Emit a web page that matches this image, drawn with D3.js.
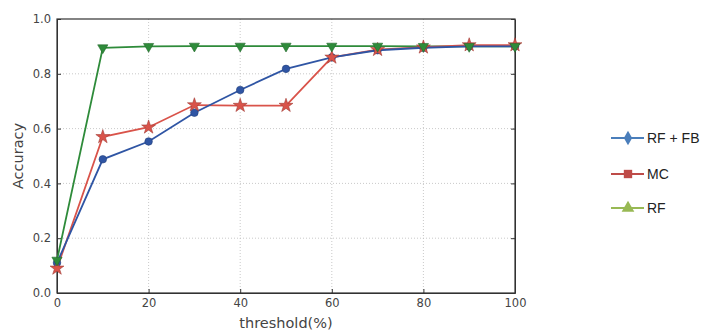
<!DOCTYPE html>
<html><head><meta charset="utf-8">
<script src="https://cdn.jsdelivr.net/npm/d3@7"></script>
<style>body{margin:0;background:#fff}svg{display:block}</style>
</head><body><svg id="c" width="708" height="332"></svg>
<script>
const thresholds = [0,10,20,30,40,50,60,70,80,90,100];
const rfFb = [0.11,0.488,0.553,0.658,0.741,0.818,0.86,0.886,0.895,0.9,0.9];
const mc   = [0.09,0.57,0.605,0.686,0.684,0.684,0.86,0.888,0.897,0.905,0.905];
const rf   = [0.12,0.895,0.9,0.901,0.901,0.901,0.901,0.901,0.9,0.9,0.9];
const xTicks = [0,20,40,60,80,100];
const yTicks = [0.0,0.2,0.4,0.6,0.8,1.0];
const legendLabels = ["RF + FB","MC","RF"];

const svg = d3.select("#c");
const L=57,R=515,T=19,B=293;
const x = d3.scaleLinear().domain([0,100]).range([L,R]);
const y = d3.scaleLinear().domain([0,1]).range([B,T]);

// grid
svg.append("g").selectAll("line").data(xTicks.slice(1,-1)).join("line")
  .attr("x1",d=>x(d)).attr("x2",d=>x(d)).attr("y1",T).attr("y2",B)
  .attr("stroke","#bbb").attr("stroke-width",0.8).attr("stroke-dasharray","1,2");
svg.append("g").selectAll("line").data(yTicks.slice(1,-1)).join("line")
  .attr("y1",d=>y(d)).attr("y2",d=>y(d)).attr("x1",L).attr("x2",R)
  .attr("stroke","#bbb").attr("stroke-width",0.8).attr("stroke-dasharray","1,2");

// axes
const xa = svg.append("g").attr("transform",`translate(0,${B})`)
  .call(d3.axisBottom(x).tickValues(xTicks).tickFormat(d3.format("d")).tickSizeInner(-4).tickSizeOuter(0).tickPadding(6));
const ya = svg.append("g").attr("transform",`translate(${L},0)`)
  .call(d3.axisLeft(y).tickValues(yTicks).tickFormat(d3.format(".1f")).tickSizeInner(-4).tickSizeOuter(0).tickPadding(6));
svg.append("g").attr("transform",`translate(${R},0)`)
  .call(d3.axisRight(y).tickValues(yTicks).tickFormat("").tickSizeInner(-4).tickSizeOuter(0));
[xa,ya].forEach(a=>{a.selectAll("text").attr("font-family","DejaVu Sans").attr("font-size",11.5).attr("fill","#444");
  a.selectAll("line").attr("stroke","#333");});
svg.selectAll(".domain").attr("stroke","#333");
svg.selectAll(".tick line").attr("stroke","#333");
svg.append("rect").attr("x",L).attr("y",T).attr("width",R-L).attr("height",B-T)
  .attr("fill","none").attr("stroke","#333").attr("stroke-width",1.2);

// series
const line = d3.line().x((d,i)=>x(thresholds[i])).y(d=>y(d));
const series = [
  {vals:rf,   color:"#2e8b3a", sym:d3.symbolTriangle, rot:180, size:45},
  {vals:mc,   color:"#d9534a", sym:d3.symbolStar,     rot:0,   size:60},
  {vals:rfFb, color:"#2f55a4", sym:d3.symbolCircle,   rot:0,   size:45}
];
series.forEach(s=>{
  svg.append("path").datum(s.vals).attr("d",line).attr("fill","none")
    .attr("stroke",s.color).attr("stroke-width",1.8);
});
[series[2],series[1],series[0]].forEach(s=>{
  svg.append("g").selectAll("path").data(s.vals).join("path")
    .attr("d",d3.symbol().type(s.sym).size(s.size))
    .attr("transform",(d,i)=>`translate(${x(thresholds[i])},${y(d)}) rotate(${s.rot})`)
    .attr("fill",s.color).attr("stroke",d3.color(s.color).darker(0.8)).attr("stroke-width",0.6);
});

// axis labels
svg.append("text").attr("x",(L+R)/2+0).attr("y",328).attr("text-anchor","middle")
  .attr("font-family","DejaVu Sans").attr("font-size",14.5).attr("fill","#444").text("threshold(%)");
svg.append("text").attr("transform",`translate(23,${(T+B)/2}) rotate(-90)`).attr("text-anchor","middle")
  .attr("font-family","DejaVu Sans").attr("font-size",14.5).attr("fill","#444").text("Accuracy");

// legend
const legColors = ["#4a7ebb","#be4b48","#98b954"];
const legSyms = [d3.symbolDiamond,d3.symbolSquare,d3.symbolTriangle];
const legY = [138,174,208];
legendLabels.forEach((lab,i)=>{
  const g = svg.append("g").attr("transform",`translate(0,${legY[i]})`);
  g.append("line").attr("x1",611).attr("x2",644).attr("stroke",legColors[i]).attr("stroke-width",2.2);
  g.append("path").attr("d",d3.symbol().type(legSyms[i]).size(i===0?60:70)).attr("transform","translate(628,0)")
    .attr("fill",legColors[i]);
  g.append("text").attr("x",647).attr("y",5).attr("font-family","Liberation Sans").attr("font-size",14)
    .attr("fill","#222").text(lab);
});
</script></body></html>
